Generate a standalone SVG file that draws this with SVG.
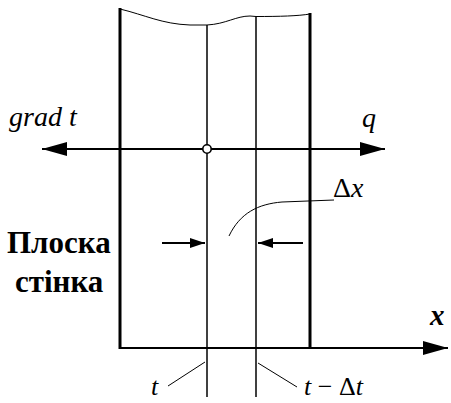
<svg xmlns="http://www.w3.org/2000/svg" width="451" height="403" viewBox="0 0 451 403">
<style>
.wall{stroke:#000;stroke-width:3;fill:none}
.thin{stroke:#000;stroke-width:1.5;fill:none}
.lead{stroke:#000;stroke-width:1;fill:none}
.axis{stroke:#000;stroke-width:2.2;fill:none}
.it{font-family:'Liberation Serif','Times New Roman','DejaVu Serif',serif;font-style:italic;fill:#000}
.bd{font-family:'Liberation Serif','Times New Roman','DejaVu Serif',serif;font-weight:bold;fill:#000}
</style>
<defs>
<marker id="big" markerUnits="userSpaceOnUse" markerWidth="26" markerHeight="16" refX="25" refY="8" orient="auto-start-reverse">
<path d="M0,1 L25,8 L0,15 Z" fill="#000"/>
</marker>
<marker id="small" markerUnits="userSpaceOnUse" markerWidth="16" markerHeight="12" refX="15" refY="6" orient="auto">
<path d="M0,1 L15,6 L0,11 Z" fill="#000"/>
</marker>
</defs>
<g id="wall">
<path class="lead" d="M120,9 C145,15 162,24 190,25 L207,25 C226,24 236,16 250,16 L256,16.5 C280,16.5 298,16 310,14"/>
<line class="wall" x1="120" y1="8" x2="120" y2="349"/>
<line class="wall" x1="310" y1="13" x2="310" y2="349"/>
<line class="thin" x1="207" y1="25" x2="207" y2="397"/>
<line class="thin" x1="256" y1="16.5" x2="256" y2="397"/>
</g>
<g id="connectors">
<line class="axis" x1="42" y1="149" x2="385" y2="149" marker-start="url(#big)" marker-end="url(#big)"/>
<line class="axis" x1="119" y1="348" x2="448" y2="348" marker-end="url(#big)"/>
<line class="axis" x1="162" y1="243" x2="205" y2="243" marker-end="url(#small)"/>
<line class="axis" x1="303" y1="243" x2="258" y2="243" marker-end="url(#small)"/>
<path class="lead" d="M229,236 C240,213 258,204 282,202 L334,200"/>
<line class="lead" x1="205" y1="362" x2="168" y2="386"/>
<line class="lead" x1="258" y1="363" x2="297" y2="387"/>
</g>
<g id="node-point">
<circle cx="207" cy="149" r="4.2" fill="#fff" stroke="#000" stroke-width="1.6"/>
</g>
<g id="labels">
<text class="it" x="9" y="126" font-size="28">grad t</text>
<text class="it" x="362" y="127" font-size="28">q</text>
<text class="it" x="333" y="197" font-size="28"><tspan font-style="normal">Δ</tspan>x</text>
<text class="bd" x="7" y="253" font-size="31">Плоска</text>
<text class="bd" x="15" y="292" font-size="31">стінка</text>
<text class="it" x="430" y="325" font-size="29" font-weight="bold">x</text>
<text class="it" x="151" y="395" font-size="26">t</text>
<text class="it" x="304" y="395" font-size="26">t <tspan font-style="normal">−</tspan> <tspan font-style="normal">Δ</tspan>t</text>
</g>
</svg>
